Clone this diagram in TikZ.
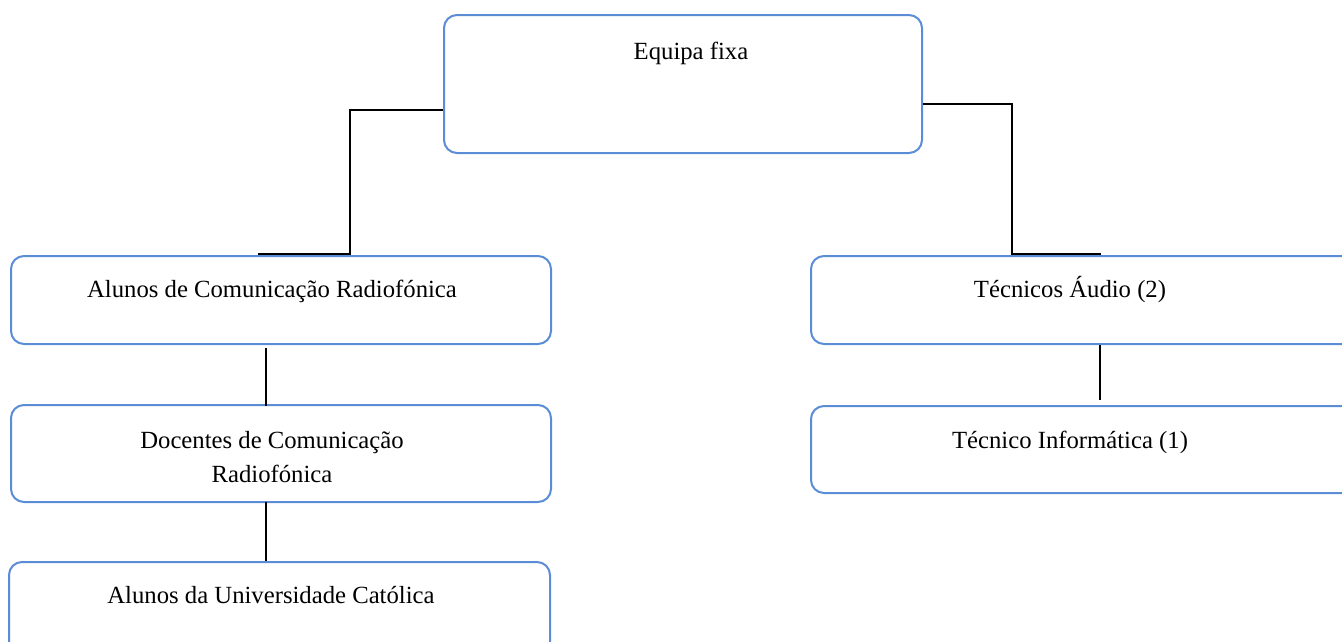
\documentclass[tikz,border=0pt]{standalone}
\usepackage{fontspec}
\setmainfont{Liberation Serif}
\definecolor{boxblue}{RGB}{91,141,214}
\begin{document}
\begin{tikzpicture}[x=1pt,y=-1pt,
  box/.style={draw=boxblue, line width=2pt, rounded corners=13pt, fill=white, inner sep=0pt, anchor=north west},
  lbl/.style={font=\fontsize{24.7}{34}\selectfont, anchor=base, inner sep=0pt, align=center},
  conn/.style={draw=black, line width=2pt}]
\useasboundingbox (0,0) rectangle (1342,641);
\clip (0,0) rectangle (1342,641);
% boxes
\node[box, minimum width=478pt, minimum height=138pt] (top) at (443,14) {};
\node[box, minimum width=540pt, minimum height=88pt] (alunos) at (10,255) {};
\node[box, minimum width=540pt, minimum height=97pt] (docentes) at (10,404) {};
\node[box, minimum width=541pt, minimum height=100pt] (univ) at (8,561) {};
\node[box, minimum width=560pt, minimum height=88pt] (tecaudio) at (810,255) {};
\node[box, minimum width=560pt, minimum height=87pt] (tecinf) at (810,405) {};
% texts
\node[lbl] (tTop) at (691,59) {Equipa fixa};
\node[lbl] (tAlunos) at (272,297) {Alunos de Comunicação Radiofónica};
\node[lbl] (tDoc1) at (272,448) {Docentes de Comunicação};
\node[lbl] (tDoc2) at (272,482) {Radiofónica};
\node[lbl] (tUniv) at (271,603) {Alunos da Universidade Católica};
\node[lbl] (tAudio) at (1070,297) {Técnicos Áudio (2)};
\node[lbl] (tInf) at (1070,448) {Técnico Informática (1)};
% connectors
\coordinate (lend) at (258,254);
\coordinate (rend) at (1101,254);
\draw[conn] ([yshift=-26pt]top.west) -| (350,254) -- (lend);
\draw[conn] ([yshift=-20pt]top.east) -| (1012,254) -- (rend);
\coordinate (a1) at (266,348);
\coordinate (d1) at (266,502);
\draw[conn] (a1) -- (266,406);
\draw[conn] (d1) -- (266,561);
\draw[conn] (tecaudio.south -| 1100,0) -- (1100,400);
\end{tikzpicture}
\end{document}
